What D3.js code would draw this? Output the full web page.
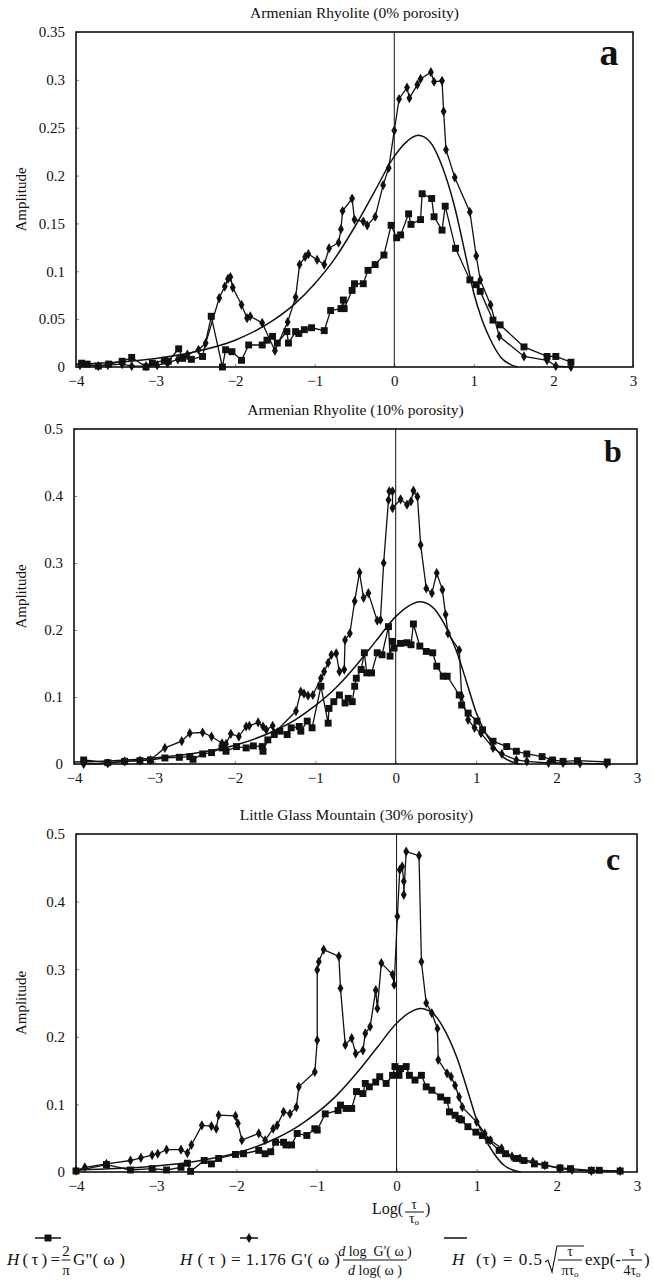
<!DOCTYPE html>
<html>
<head>
<meta charset="utf-8">
<script src="https://cdn.jsdelivr.net/npm/d3@7"></script>
<style>
  body { margin: 0; background: #fff; }
  text { font-family: "Liberation Serif", "Times New Roman", serif; fill: #111; }
</style>
</head>
<body>
<div id="chart"></div>
<script>
// ---- data: [log(tau/tau0), amplitude] ----
const xTicks = [-4, -3, -2, -1, 0, 1, 2, 3];
const aYTicks = [0, 0.05, 0.1, 0.15, 0.2, 0.25, 0.3, 0.35];
const bcYTicks = [0, 0.1, 0.2, 0.3, 0.4, 0.5];
const titles = ["Armenian Rhyolite (0% porosity)", "Armenian Rhyolite (10% porosity)", "Little Glass Mountain (30% porosity)"];
const letters = ["a", "b", "c"];

// H(tau) = 0.5 sqrt(tau/pi tau0) exp(-tau/4tau0), as drawn
const fitCurve = [[-4,0.003],[-3.5,0.005],[-3,0.009],[-2.5,0.016],[-2,0.028],[-1.5,0.05],[-1.25,0.066],[-1,0.087],
  [-0.75,0.113],[-0.5,0.146],[-0.25,0.183],[0,0.22],[0.15,0.235],[0.3,0.242],[0.45,0.235],[0.6,0.21],[0.75,0.17],
  [0.9,0.115],[1.0,0.077],[1.1,0.05],[1.2,0.03],[1.34,0.01],[1.45,0.003],[1.55,0]];

const aSquares = [[-3.93,0.004],[-3.86,0.003],[-3.72,0.001],[-3.59,0.003],[-3.42,0.006],[-3.3,0.01],[-3.12,0.0],[-3.04,0.004],
  [-2.89,0.007],[-2.84,0.006],[-2.71,0.019],[-2.66,0.009],[-2.55,0.008],[-2.41,0.011],[-2.3,0.053],[-2.16,0.0],[-2.12,0.018],
  [-2.04,0.016],[-1.92,0.007],[-1.83,0.023],[-1.66,0.023],[-1.6,0.028],[-1.53,0.032],[-1.47,0.025],[-1.35,0.037],[-1.33,0.025],
  [-1.24,0.037],[-1.2,0.035],[-1.13,0.039],[-1.04,0.041],[-0.88,0.038],[-0.8,0.059],[-0.67,0.061],[-0.64,0.07],[-0.63,0.061],
  [-0.53,0.08],[-0.5,0.087],[-0.39,0.087],[-0.33,0.101],[-0.24,0.107],[-0.13,0.117],[-0.04,0.148],[0.03,0.135],[0.08,0.138],
  [0.18,0.16],[0.21,0.149],[0.33,0.154],[0.35,0.181],[0.47,0.176],[0.5,0.157],[0.6,0.143],[0.64,0.168],[0.77,0.124],
  [0.95,0.091],[1.03,0.086],[1.08,0.079],[1.24,0.049],[1.33,0.044],[1.63,0.021],[1.92,0.011],[2.03,0.011],[2.22,0.005]];

const aDiamonds = [[-3.95,0.002],[-3.72,0.001],[-3.6,0.002],[-3.42,0.003],[-3.3,0.001],[-3.12,0.001],[-2.98,0.002],[-2.85,0.004],
  [-2.72,0.008],[-2.6,0.013],[-2.46,0.018],[-2.37,0.025],[-2.2,0.072],[-2.13,0.084],[-2.09,0.092],[-2.06,0.094],[-2.03,0.083],
  [-1.92,0.065],[-1.85,0.051],[-1.81,0.053],[-1.66,0.046],[-1.5,0.017],[-1.34,0.047],[-1.24,0.073],[-1.19,0.107],[-1.12,0.115],
  [-1.08,0.118],[-0.97,0.112],[-0.88,0.107],[-0.82,0.124],[-0.7,0.13],[-0.67,0.144],[-0.65,0.163],[-0.53,0.176],[-0.5,0.154],
  [-0.39,0.152],[-0.34,0.148],[-0.24,0.157],[-0.14,0.19],[-0.07,0.208],[0.0,0.247],[0.06,0.28],[0.16,0.292],[0.19,0.281],
  [0.29,0.295],[0.33,0.301],[0.46,0.308],[0.5,0.298],[0.6,0.299],[0.62,0.267],[0.65,0.227],[0.76,0.198],[0.95,0.162],
  [1.03,0.116],[1.08,0.091],[1.21,0.065],[1.32,0.032],[1.63,0.011],[1.92,0.007],[2.03,0.001],[2.22,0.0]];

const bSquares = [[-3.88,0.006],[-3.58,0.002],[-3.37,0.004],[-3.18,0.005],[-3.05,0.006],[-2.87,0.009],[-2.69,0.01],[-2.56,0.011],
  [-2.52,0.007],[-2.4,0.015],[-2.29,0.017],[-2.16,0.024],[-2.11,0.019],[-1.98,0.026],[-1.86,0.024],[-1.77,0.027],[-1.66,0.026],
  [-1.65,0.019],[-1.59,0.036],[-1.51,0.044],[-1.44,0.049],[-1.35,0.044],[-1.3,0.054],[-1.2,0.056],[-1.18,0.049],[-1.1,0.064],
  [-1.04,0.054],[-0.93,0.116],[-0.84,0.061],[-0.83,0.083],[-0.77,0.093],[-0.7,0.103],[-0.63,0.091],[-0.59,0.098],[-0.54,0.093],
  [-0.51,0.116],[-0.49,0.128],[-0.43,0.141],[-0.39,0.166],[-0.36,0.136],[-0.3,0.136],[-0.23,0.166],[-0.17,0.163],[-0.09,0.205],
  [-0.07,0.161],[-0.04,0.183],[-0.02,0.173],[0.06,0.18],[0.14,0.181],[0.19,0.178],[0.22,0.209],[0.3,0.176],[0.38,0.168],
  [0.46,0.166],[0.51,0.146],[0.59,0.131],[0.64,0.131],[0.79,0.103],[0.82,0.088],[0.9,0.076],[1.01,0.064],[1.08,0.051],
  [1.21,0.034],[1.38,0.026],[1.5,0.019],[1.63,0.015],[1.82,0.011],[1.95,0.006],[2.08,0.004],[2.26,0.005],[2.63,0.003]];

const bDiamonds = [[-3.88,0.0],[-3.58,0.001],[-3.37,0.004],[-3.18,0.005],[-3.05,0.006],[-2.87,0.024],[-2.66,0.034],[-2.56,0.046],
  [-2.4,0.047],[-2.29,0.041],[-2.16,0.031],[-2.11,0.03],[-2.05,0.045],[-1.95,0.041],[-1.86,0.056],[-1.82,0.057],[-1.71,0.062],
  [-1.65,0.056],[-1.61,0.051],[-1.53,0.057],[-1.51,0.046],[-1.24,0.079],[-1.18,0.108],[-1.14,0.105],[-1.09,0.102],[-1.03,0.103],
  [-0.93,0.128],[-0.89,0.138],[-0.84,0.151],[-0.8,0.163],[-0.74,0.165],[-0.7,0.138],[-0.64,0.141],[-0.63,0.185],[-0.57,0.195],
  [-0.51,0.243],[-0.45,0.286],[-0.4,0.248],[-0.34,0.255],[-0.23,0.214],[-0.19,0.215],[-0.15,0.3],[-0.09,0.394],[-0.08,0.407],
  [-0.04,0.407],[-0.04,0.382],[0.06,0.395],[0.14,0.387],[0.19,0.392],[0.22,0.408],[0.27,0.399],[0.31,0.327],[0.38,0.262],
  [0.45,0.255],[0.51,0.285],[0.58,0.26],[0.62,0.223],[0.65,0.195],[0.79,0.17],[0.82,0.101],[0.9,0.066],[0.98,0.054],
  [1.06,0.046],[1.21,0.024],[1.32,0.015],[1.5,0.006],[1.63,0.004],[1.9,0.0015],[2.08,0.0015],[2.29,0.001],[2.62,0.0]];

const cSquares = [[-4.0,0.0015],[-3.62,0.011],[-3.32,0.003],[-3.05,0.005],[-2.87,0.003],[-2.69,0.007],[-2.61,0.013],[-2.57,0.001],
  [-2.4,0.017],[-2.31,0.012],[-2.22,0.02],[-2.01,0.026],[-1.91,0.027],[-1.72,0.032],[-1.64,0.027],[-1.57,0.03],[-1.51,0.044],
  [-1.41,0.044],[-1.38,0.04],[-1.31,0.04],[-1.24,0.057],[-1.12,0.054],[-1.02,0.064],[-0.99,0.062],[-0.89,0.086],[-0.73,0.091],
  [-0.7,0.099],[-0.63,0.094],[-0.56,0.094],[-0.5,0.119],[-0.42,0.116],[-0.39,0.131],[-0.34,0.126],[-0.26,0.133],[-0.21,0.141],
  [-0.13,0.131],[-0.05,0.143],[-0.02,0.156],[0.03,0.143],[0.05,0.153],[0.12,0.156],[0.16,0.143],[0.23,0.136],[0.31,0.143],
  [0.37,0.126],[0.44,0.121],[0.55,0.111],[0.63,0.106],[0.66,0.089],[0.73,0.084],[0.78,0.079],[0.81,0.077],[0.89,0.067],
  [0.99,0.059],[1.07,0.054],[1.15,0.047],[1.28,0.032],[1.36,0.027],[1.49,0.02],[1.59,0.017],[1.72,0.012],[1.85,0.01],
  [2.04,0.006],[2.17,0.005],[2.43,0.0025],[2.53,0.0025],[2.79,0.0015]];

const cDiamonds = [[-4.0,0.002],[-3.89,0.007],[-3.62,0.012],[-3.32,0.017],[-3.19,0.021],[-3.05,0.025],[-2.98,0.027],[-2.87,0.033],
  [-2.69,0.033],[-2.61,0.028],[-2.56,0.04],[-2.43,0.069],[-2.31,0.068],[-2.25,0.064],[-2.22,0.084],[-2.01,0.083],[-1.98,0.072],
  [-1.93,0.047],[-1.72,0.057],[-1.64,0.047],[-1.54,0.064],[-1.49,0.069],[-1.41,0.089],[-1.33,0.086],[-1.25,0.096],[-1.22,0.126],
  [-1.02,0.148],[-0.99,0.195],[-0.99,0.299],[-0.97,0.311],[-0.91,0.329],[-0.72,0.319],[-0.7,0.272],[-0.64,0.188],[-0.56,0.198],
  [-0.51,0.175],[-0.42,0.18],[-0.39,0.205],[-0.33,0.215],[-0.26,0.269],[-0.24,0.242],[-0.19,0.309],[-0.05,0.292],[-0.03,0.277],
  [0.01,0.378],[0.04,0.447],[0.07,0.452],[0.09,0.43],[0.09,0.41],[0.12,0.474],[0.28,0.468],[0.31,0.311],[0.37,0.25],
  [0.44,0.235],[0.51,0.212],[0.52,0.166],[0.63,0.146],[0.68,0.141],[0.73,0.128],[0.78,0.111],[0.82,0.096],[1.0,0.074],
  [1.1,0.057],[1.17,0.047],[1.31,0.035],[1.44,0.023],[1.54,0.02],[1.7,0.015],[1.85,0.01],[2.04,0.005],[2.19,0.003],
  [2.43,0.0015],[2.79,0.0015]];

// ---- layout ----
const panels = [
  {title: titles[0], letter: letters[0], sq: aSquares, di: aDiamonds, yMax: 0.35, yTicks: aYTicks, left: 76, right: 633, top: 32, bottom: 367},
  {title: titles[1], letter: letters[1], sq: bSquares, di: bDiamonds, yMax: 0.5, yTicks: bcYTicks, left: 74, right: 637, top: 429, bottom: 764},
  {title: titles[2], letter: letters[2], sq: cSquares, di: cDiamonds, yMax: 0.5, yTicks: bcYTicks, left: 76, right: 637, top: 834, bottom: 1172}
];

const svg = d3.select("#chart").append("svg")
  .attr("width", 654)
  .attr("height", 1280);

const square = d3.symbol().type(d3.symbolSquare).size(48);
const diamond = d3.symbol().type(d3.symbolDiamond).size(30);
const nb = "\u00a0";

panels.forEach(function(p, i) {
  const x = d3.scaleLinear().domain([-4, 3]).range([p.left, p.right]);
  const y = d3.scaleLinear().domain([0, p.yMax]).range([p.bottom, p.top]);
  const g = svg.append("g");

  g.append("text")
    .attr("x", (p.left + p.right) / 2)
    .attr("y", p.top - 14)
    .attr("text-anchor", "middle")
    .attr("font-size", "15.5px")
    .text(p.title);

  // axes
  const xa = g.append("g")
    .attr("transform", "translate(0," + p.bottom + ")")
    .call(d3.axisBottom(x).tickValues(xTicks).tickSize(-3).tickPadding(8).tickFormat(d3.format("~g")));
  const ya = g.append("g")
    .attr("transform", "translate(" + p.left + ",0)")
    .call(d3.axisLeft(y).tickValues(p.yTicks).tickSize(-3).tickPadding(11).tickFormat(d3.format("~g")));
  [xa, ya].forEach(function(a) {
    a.select(".domain").remove();
    a.selectAll("line").attr("stroke", "#888");
    a.selectAll("text").attr("font-size", "15px").attr("font-family", "Liberation Serif, serif").attr("fill", "#111");
  });

  // box
  g.append("rect")
    .attr("x", p.left).attr("y", p.top)
    .attr("width", p.right - p.left).attr("height", p.bottom - p.top)
    .attr("fill", "none").attr("stroke", "#111").attr("stroke-width", 1.6);

  // zero line
  g.append("line")
    .attr("x1", x(0)).attr("x2", x(0))
    .attr("y1", p.top).attr("y2", p.bottom)
    .attr("stroke", "#111").attr("stroke-width", 1);

  g.append("text")
    .attr("transform", "translate(" + 26 + "," + ((p.top + p.bottom) / 2) + ") rotate(-90)")
    .attr("text-anchor", "middle")
    .attr("font-size", "15px")
    .text("Amplitude");

  g.append("text")
    .attr("x", p.right - 24)
    .attr("y", p.top + (i == 2 ? 36 : 33))
    .attr("text-anchor", "middle")
    .attr("font-family", "DejaVu Sans, sans-serif")
    .attr("font-weight", "bold")
    .attr("font-size", i == 0 ? "38px" : "32px")
    .text(p.letter);

  const line = d3.line().x(d => x(d[0])).y(d => y(d[1]));

  g.append("path")
    .datum(fitCurve)
    .attr("fill", "none").attr("stroke", "#111").attr("stroke-width", 1.5)
    .attr("d", line.curve(d3.curveMonotoneX));
  line.curve(d3.curveLinear);

  g.append("path")
    .datum(p.sq)
    .attr("fill", "none").attr("stroke", "#111").attr("stroke-width", 1.3)
    .attr("d", line);
  g.append("path")
    .datum(p.di)
    .attr("fill", "none").attr("stroke", "#111").attr("stroke-width", 1.3)
    .attr("d", line);

  g.selectAll(".sq")
    .data(p.sq)
    .join("path")
    .attr("class", "sq")
    .attr("transform", d => "translate(" + x(d[0]) + "," + y(d[1]) + ")")
    .attr("d", square)
    .attr("fill", "#111");
  g.selectAll(".di")
    .data(p.di)
    .join("path")
    .attr("class", "di")
    .attr("transform", d => "translate(" + x(d[0]) + "," + y(d[1]) + ")")
    .attr("d", diamond)
    .attr("fill", "#111");
});

// x axis title under panel c: Log(tau/tau0)
const xl = svg.append("g").attr("font-size", "16px");
xl.append("text").attr("x", 403).attr("y", 1214).attr("text-anchor", "end").text("Log(");
xl.append("text").attr("x", 414).attr("y", 1209).attr("text-anchor", "middle").attr("font-size", "14px").text("τ");
xl.append("line").attr("x1", 405).attr("x2", 424).attr("y1", 1212).attr("y2", 1212).attr("stroke", "#111");
xl.append("text").attr("x", 414).attr("y", 1223).attr("text-anchor", "middle").attr("font-size", "14px")
  .html('τ<tspan font-size="9px" dy="2">o</tspan>');
xl.append("text").attr("x", 425).attr("y", 1214).text(")");

// ---- legend ----
const lg = svg.append("g").attr("font-size", "17px");
const legY = 1238;
[[35, 61, "sq"], [240, 258, "di"], [444, 467, "none"]].forEach(function(m) {
  lg.append("line").attr("x1", m[0]).attr("x2", m[1]).attr("y1", legY).attr("y2", legY)
    .attr("stroke", "#111").attr("stroke-width", 1.5);
  if (m[2] != "none") {
    lg.append("path")
      .attr("transform", "translate(" + ((m[0] + m[1]) / 2) + "," + legY + ")")
      .attr("d", m[2] == "sq" ? square : diamond)
      .attr("fill", "#111");
  }
});

function frac(gx, cx, top, bottom, barW, size) {
  gx.append("text").attr("x", cx).attr("y", 1256).attr("text-anchor", "middle").attr("font-size", size).html(top);
  gx.append("line").attr("x1", cx - barW / 2).attr("x2", cx + barW / 2).attr("y1", 1260).attr("y2", 1260)
    .attr("stroke", "#111").attr("stroke-width", 1);
  gx.append("text").attr("x", cx).attr("y", 1275).attr("text-anchor", "middle").attr("font-size", size).html(bottom);
}

// item 1
lg.append("text").attr("x", 7).attr("y", 1265).attr("textLength", 53).attr("lengthAdjust", "spacing")
  .html('<tspan font-style="italic">H</tspan> ( τ ) =');
frac(lg, 66, "2", "π", 9, "15px");
lg.append("text").attr("x", 73).attr("y", 1265).attr("textLength", 52).attr("lengthAdjust", "spacing").text("G''( ω )");

// item 2
lg.append("text").attr("x", 180).attr("y", 1265).attr("textLength", 160).attr("lengthAdjust", "spacing")
  .html('<tspan font-style="italic">H</tspan> ( τ ) = 1.176 G\'( ω )');
frac(lg, 375, '<tspan font-style="italic">d</tspan>' + nb + 'log' + nb + nb + 'G\'( ω )',
  '<tspan font-style="italic">d</tspan>' + nb + 'log( ω )', 64, "14px");

// item 3
lg.append("text").attr("x", 452).attr("y", 1265).attr("textLength", 90).attr("lengthAdjust", "spacing")
  .html('<tspan font-style="italic">H</tspan>' + nb + ' (τ) = 0.5');
lg.append("path").attr("d", "M545,1262 L548,1260 L552,1272 L557,1246 L584,1246")
  .attr("fill", "none").attr("stroke", "#111").attr("stroke-width", 1.1);
frac(lg, 570, "τ", 'πτ<tspan font-size="9px" dy="2">o</tspan>', 24, "14px");
lg.append("text").attr("x", 585).attr("y", 1265).attr("textLength", 36).attr("lengthAdjust", "spacing").text("exp(-");
frac(lg, 632, "τ", '4τ<tspan font-size="9px" dy="2">o</tspan>', 20, "14px");
lg.append("text").attr("x", 644).attr("y", 1265).text(")");
</script>
</body>
</html>
